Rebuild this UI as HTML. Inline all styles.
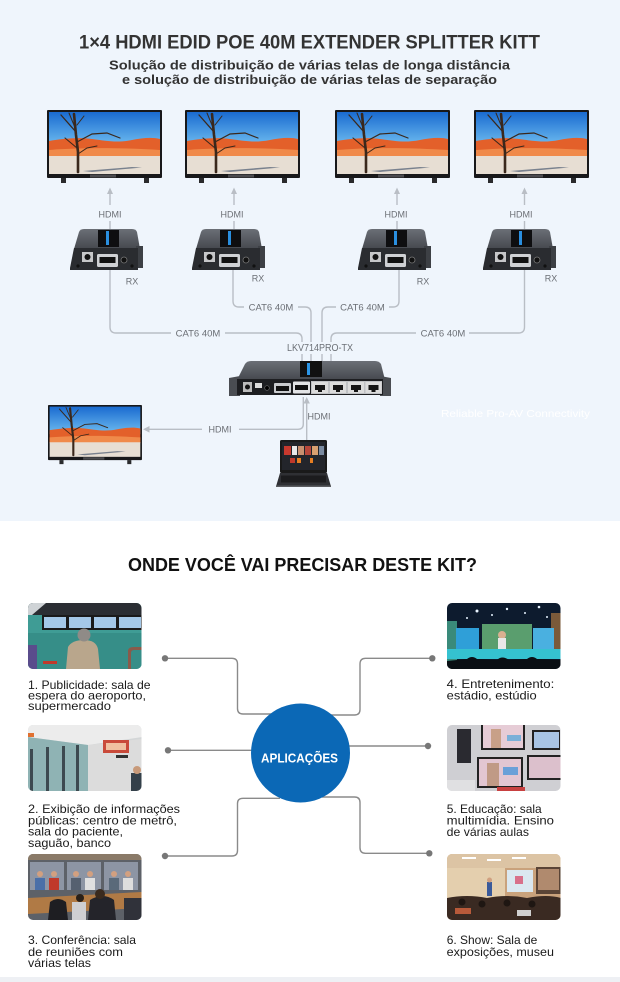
<!DOCTYPE html>
<html><head><meta charset="utf-8"><style>
html,body{margin:0;padding:0;background:#fff;}
svg{display:block;}
text{font-family:"Liberation Sans",sans-serif;}
</style></head><body>
<svg width="620" height="982" viewBox="0 0 620 982" xmlns="http://www.w3.org/2000/svg">
<defs>
 <linearGradient id="sky" x1="0" y1="0" x2="0" y2="1">
  <stop offset="0" stop-color="#1a6bd0"/><stop offset="1" stop-color="#6fbdf0"/>
 </linearGradient>
 <linearGradient id="cover" x1="0" y1="0" x2="0" y2="1">
  <stop offset="0" stop-color="#6b6f76"/><stop offset="1" stop-color="#45484e"/>
 </linearGradient>
 <clipPath id="ph"><rect x="0" y="0" width="113.5" height="66" rx="5"/></clipPath>
 <g id="tv">
  <rect x="0" y="0" width="115" height="68" rx="1" fill="#18181a"/>
  <rect x="2" y="2" width="111" height="34" fill="url(#sky)"/>
  <path d="M2,31 C15,29 30,27 45,29 C60,31 70,33 85,30 C95,28 105,27 113,29 V47 H2 Z" fill="#e3602a"/>
  <path d="M2,40 C40,37 80,38 113,40 V47 H2 Z" fill="#f08a4a"/>
  <rect x="2" y="46" width="111" height="18" fill="#e7ded3"/>
  <path d="M36,61 L85,57 L95,57.5 L45,62 Z" fill="#4a5a70" opacity="0.7"/>
  <g stroke="#3a281c" fill="none" stroke-linecap="round">
   <path d="M31,62 L31,42 L29,25 L27,4" stroke-width="2.6"/>
   <path d="M29,22 L14,5" stroke-width="1.3"/>
   <path d="M29,20 L22,3" stroke-width="1"/>
   <path d="M30,32 L45,24 L60,23 L73,28" stroke-width="1.2"/>
   <path d="M30,38 L18,28" stroke-width="1.1"/>
   <path d="M30,15 L37,6" stroke-width="1"/>
   <path d="M31,44 L40,38 L50,36" stroke-width="1"/>
  </g>
  <rect x="43" y="64.5" width="26" height="3" fill="#4a4a4e"/>
  <rect x="14" y="68" width="5" height="5" fill="#2a2a2c"/>
  <rect x="97" y="68" width="5" height="5" fill="#2a2a2c"/>
 </g>
 <g id="rx">
  <path d="M4,20 L9,3 Q10,0 14,0 L62,0 Q66,0 67,3 L70,20 Z" fill="url(#cover)"/>
  <rect x="28" y="1" width="21" height="17" fill="#0e0e10"/>
  <rect x="36" y="2" width="3" height="14" fill="#2a8fe0"/>
  <rect x="66" y="17" width="7" height="22" fill="#3d4045"/>
  <path d="M0,39 L4,19 L68,19 L68,41 L0,41 Z" fill="#2a2c30"/>
  <rect x="12" y="23" width="11" height="10" fill="#c6c7c9"/>
  <circle cx="17.5" cy="28" r="3" fill="#111"/>
  <rect x="27" y="25" width="21" height="13" rx="1.5" fill="#cfd1d4"/>
  <rect x="29.5" y="28" width="16" height="6" fill="#111"/>
  <circle cx="54" cy="31" r="3" fill="#111" stroke="#777" stroke-width="0.8"/>
  <circle cx="8" cy="37" r="1.6" fill="#111"/>
  <circle cx="62" cy="37" r="1.6" fill="#111"/>
 </g>
</defs>

<!-- top background -->
<rect x="0" y="0" width="620" height="521" fill="#eff5fc"/>

<!-- titles -->
<text x="79" y="48.5" font-size="19" font-weight="bold" fill="#333" textLength="461" lengthAdjust="spacingAndGlyphs">1×4 HDMI EDID POE 40M EXTENDER SPLITTER KITT</text>
<text x="109" y="69.5" font-size="13" font-weight="bold" fill="#333" textLength="401" lengthAdjust="spacingAndGlyphs">Solução de distribuição de várias telas de longa distância</text>
<text x="122" y="84" font-size="13" font-weight="bold" fill="#333" textLength="375" lengthAdjust="spacingAndGlyphs">e solução de distribuição de várias telas de separação</text>

<!-- top TVs -->
<use href="#tv" x="47" y="110"/>
<use href="#tv" x="185" y="110"/>
<use href="#tv" x="335" y="110"/>
<use href="#tv" x="474" y="110"/>

<!-- arrows TV <- RX -->
<g stroke="#b9bec5" stroke-width="1.4" fill="none">
 <path d="M110,192 V205 M110,221 V229"/>
 <path d="M234,192 V205 M234,221 V229"/>
 <path d="M397,192 V205 M397,221 V229"/>
 <path d="M524.5,192 V205 M524.5,221 V229"/>
</g>
<g fill="#b9bec5">
 <path d="M107,194 L110,187.5 L113,194 Z"/>
 <path d="M231,194 L234,187.5 L237,194 Z"/>
 <path d="M394,194 L397,187.5 L400,194 Z"/>
 <path d="M521.5,194 L524.5,187.5 L527.5,194 Z"/>
</g>
<g font-size="9" fill="#6b6f75" text-anchor="middle">
 <text x="110" y="217.5">HDMI</text>
 <text x="232" y="217.5">HDMI</text>
 <text x="396" y="217.5">HDMI</text>
 <text x="521" y="217.5">HDMI</text>
</g>

<!-- RX units -->
<use href="#rx" x="70" y="229"/>
<use href="#rx" x="192" y="229"/>
<use href="#rx" x="358" y="229"/>
<use href="#rx" x="483" y="229"/>
<g font-size="9" fill="#6b6f75" text-anchor="middle">
 <text x="132" y="284.5">RX</text>
 <text x="258" y="281.5">RX</text>
 <text x="423" y="284.5">RX</text>
 <text x="551" y="281.5">RX</text>
</g>

<!-- CAT6 cables -->
<g stroke="#b9bec5" stroke-width="1.4" fill="none">
 <path d="M110,270 V327 Q110,333 116,333 H171 M225,333 H296 Q302,333 302,339 V342"/>
 <path d="M233,270 V301 Q233,307 239,307 H244 M298,307 H305 Q311,307 311,313 V342"/>
 <path d="M399,270 V301 Q399,307 393,307 H389 M336,307 H328 Q322,307 322,313 V342"/>
 <path d="M524.5,270 V327 Q524.5,333 518.5,333 H469 M416,333 H337 Q331,333 331,339 V342"/>
 <path d="M302,354 V362 M311,354 V362 M322,354 V362 M331,354 V362"/>
</g>
<g font-size="9.5" fill="#6b6f75" text-anchor="middle">
 <text x="198" y="336.5">CAT6 40M</text>
 <text x="271" y="310.5">CAT6 40M</text>
 <text x="362.5" y="310.5">CAT6 40M</text>
 <text x="443" y="336.5">CAT6 40M</text>
 <text x="320" y="351" font-size="10" textLength="66" lengthAdjust="spacingAndGlyphs">LKV714PRO-TX</text>
</g>

<!-- TX device -->
<path d="M229,378 L240,376 L240,396 L229,396 Z" fill="#4a4d52"/>
<path d="M380,376 L391,378 L391,396 L380,396 Z" fill="#4a4d52"/>
<path d="M237,380 L245,364 Q247,361 251,361 L375,361 Q379,361 381,364 L385,380 Z" fill="url(#cover)"/>
<rect x="300" y="361" width="22" height="16" fill="#111"/>
<rect x="307" y="363" width="3" height="12" fill="#2b95e6"/>
<rect x="237" y="379" width="146" height="16" fill="#1d1e21"/>
<rect x="243" y="382" width="9" height="10" fill="#bbb"/>
<circle cx="247.5" cy="387" r="2.5" fill="#111"/>
<rect x="255" y="383" width="7" height="5" fill="#ddd"/>
<circle cx="267" cy="388" r="2.3" fill="#000" stroke="#666" stroke-width="0.7"/>
<rect x="274" y="383" width="17" height="10" rx="1" fill="#c9cbce"/>
<rect x="276" y="386" width="13" height="5" fill="#111"/>
<rect x="293" y="381.5" width="17" height="12" rx="1" fill="#e2e3e5"/>
<rect x="295" y="385" width="13" height="5" fill="#111"/>
<rect x="311" y="381" width="71" height="13" fill="#bfc1c4"/>
<g fill="#dcdcdc">
 <rect x="312" y="382" width="16" height="11"/>
 <rect x="330" y="382" width="16" height="11"/>
 <rect x="348" y="382" width="16" height="11"/>
 <rect x="365.5" y="382" width="16" height="11"/>
</g>
<g fill="#151515">
 <path d="M315,385 H325 V390 H322 V392 H318 V390 H315 Z"/>
 <path d="M333,385 H343 V390 H340 V392 H336 V390 H333 Z"/>
 <path d="M351,385 H361 V390 H358 V392 H354 V390 H351 Z"/>
 <path d="M368.5,385 H378.5 V390 H375.5 V392 H371.5 V390 H368.5 Z"/>
</g>

<!-- HDMI connections near TX -->
<g stroke="#b9bec5" stroke-width="1.4" fill="none">
 <path d="M303.3,397 V424 Q303.3,429.3 298,429.3 H239 M202,429.3 H148"/>
 <path d="M306.7,402 V440"/>
</g>
<path d="M149.5,426 L143,429.3 L149.5,432.6 Z" fill="#b9bec5"/>
<path d="M303.5,403.5 L306.7,397 L309.9,403.5 Z" fill="#b9bec5"/>
<g font-size="9" fill="#6b6f75" text-anchor="middle">
 <text x="319" y="419.5">HDMI</text>
 <text x="220" y="432.5">HDMI</text>
</g>

<!-- bottom TV -->
<use href="#tv" transform="translate(48,405) scale(0.817,0.81)"/>

<!-- laptop -->
<rect x="280" y="440" width="47" height="33" rx="1.5" fill="#1a1a1a"/>
<rect x="282" y="442" width="43" height="28" fill="#23252b"/>
<rect x="284" y="446" width="7" height="9" fill="#c8392e"/>
<rect x="292" y="446" width="5" height="9" fill="#e8e8e8"/>
<rect x="298" y="446" width="6" height="9" fill="#c89070"/>
<rect x="305" y="446" width="6" height="9" fill="#b7463a"/>
<rect x="312" y="446" width="6" height="9" fill="#d9a070"/>
<rect x="319" y="446" width="5" height="9" fill="#7a8aa0"/>
<rect x="290" y="458" width="5" height="5" fill="#c0392b"/>
<rect x="297" y="458" width="4" height="5" fill="#e67e22"/>
<rect x="310" y="458" width="3" height="5" fill="#e67e22"/>
<path d="M280,473 L327,473 L331,486.5 L276,486.5 Z" fill="#2f3034"/>
<rect x="281" y="475.5" width="45" height="7" fill="#1c1c1e"/>
<rect x="276" y="485.5" width="55" height="1.5" fill="#5a5b5f"/>

<!-- watermark -->
<text x="441" y="417" font-size="10.5" fill="#ffffff" textLength="149" lengthAdjust="spacingAndGlyphs">Reliable Pro-AV Connectivity</text>

<!-- bottom section -->
<rect x="0" y="521" width="620" height="456" fill="#ffffff"/>
<rect x="0" y="977" width="620" height="5" fill="#eef0f4"/>

<text x="128" y="571" font-size="18" font-weight="bold" fill="#111" textLength="349" lengthAdjust="spacingAndGlyphs">ONDE VOCÊ VAI PRECISAR DESTE KIT?</text>

<!-- connectors -->
<g stroke="#8a8a8a" stroke-width="1.4" fill="none">
 <path d="M165,658.3 H232 Q237.5,658.3 237.5,664 V708.5 Q237.5,714 243,714 H280"/>
 <path d="M168,750.3 H262"/>
 <path d="M165,856 H232 Q237.5,856 237.5,850.5 V803.5 Q237.5,798.3 243,798.3 H280"/>
 <path d="M432.3,658.3 H365.5 Q360,658.3 360,664 V709.5 Q360,715 354.5,715 H322"/>
 <path d="M428,746 H340"/>
 <path d="M429.3,853.3 H365.5 Q360,853.3 360,847.8 V802.5 Q360,797 354.5,797 H322"/>
</g>
<g fill="#777">
 <circle cx="165" cy="658.3" r="3.2"/>
 <circle cx="168" cy="750.3" r="3.2"/>
 <circle cx="165" cy="856" r="3.2"/>
 <circle cx="432.3" cy="658.3" r="3.2"/>
 <circle cx="428" cy="746" r="3.2"/>
 <circle cx="429.3" cy="853.3" r="3.2"/>
</g>

<circle cx="300.5" cy="753" r="49.5" fill="#0b68b6"/>
<text x="261" y="762.5" font-size="12.5" font-weight="bold" fill="#fff" textLength="77" lengthAdjust="spacingAndGlyphs">APLICAÇÕES</text>

<!-- photo 1: airport -->
<g transform="translate(28,603)" clip-path="url(#ph)">
 <rect width="114" height="66" fill="#3f9c95"/>
 <rect y="30" width="114" height="36" fill="#368e88"/>
 <rect width="114" height="12" fill="#2b2e33"/>
 <path d="M0,0 L18,0 L4,12 L0,12 Z" fill="#cfd3d6"/>
 <rect x="14" y="12" width="100" height="15" fill="#1a1a1a"/>
 <rect x="16" y="14" width="22" height="11" fill="#a4c8e8"/>
 <rect x="41" y="14" width="22" height="11" fill="#a4c8e8"/>
 <rect x="66" y="14" width="22" height="11" fill="#a4c8e8"/>
 <rect x="91" y="14" width="22" height="11" fill="#a4c8e8"/>
 <path d="M38,66 L40,44 Q44,37 56,37 Q68,37 70,46 L72,66 Z" fill="#b9a68c"/>
 <circle cx="56" cy="32" r="6.5" fill="#8f8b87"/>
 <rect x="0" y="42" width="9" height="24" fill="#5a4c8c"/>
 <rect x="15" y="58" width="14" height="3" fill="#c0392b"/>
 <path d="M100,66 V48 Q100,44 106,44 H114 V47 H106 Q103,47 103,50 V66 Z" fill="#8a5a4a"/>
</g>
<!-- photo 2: metro -->
<g transform="translate(28,725)" clip-path="url(#ph)">
 <rect width="114" height="66" fill="#d3d6d7"/>
 <path d="M0,0 H114 V12 L60,20 L0,12 Z" fill="#ececec"/>
 <path d="M0,12 L60,20 L60,66 L0,66 Z" fill="#8fb3b4"/>
 <rect x="2" y="24" width="3" height="42" fill="#3d4a50"/>
 <rect x="18" y="22" width="3" height="44" fill="#3d4a50"/>
 <rect x="34" y="21" width="3" height="45" fill="#3d4a50"/>
 <rect x="48" y="20" width="3" height="46" fill="#3d4a50"/>
 <rect x="0" y="8" width="6" height="4" fill="#e07030"/>
 <path d="M60,20 L114,14 V66 H60 Z" fill="#dcdcdc"/>
 <rect x="75" y="15" width="26" height="13" fill="#c94a3a"/>
 <rect x="78" y="18" width="20" height="7" fill="#f0c0a0"/>
 <rect x="88" y="30" width="12" height="3" fill="#333"/>
 <rect x="103" y="48" width="11" height="18" fill="#34404a"/>
 <circle cx="109" cy="45" r="4" fill="#c89a7a"/>
</g>
<!-- photo 3: conference -->
<g transform="translate(28,854)" clip-path="url(#ph)">
 <rect width="114" height="66" fill="#5d6168"/>
 <rect width="114" height="6" fill="#8a7a68"/>
 <rect x="2" y="8" width="34" height="28" fill="#8d95a4"/>
 <rect x="39" y="8" width="34" height="28" fill="#8d95a4"/>
 <rect x="76" y="8" width="34" height="28" fill="#8d95a4"/>
 <g fill="#d2a080">
  <circle cx="12" cy="20" r="3"/><circle cx="26" cy="20" r="3"/>
  <circle cx="48" cy="20" r="3"/><circle cx="62" cy="20" r="3"/>
  <circle cx="86" cy="20" r="3"/><circle cx="100" cy="20" r="3"/>
 </g>
 <rect x="7" y="24" width="10" height="12" fill="#4a6fa8"/>
 <rect x="21" y="24" width="10" height="12" fill="#c0392b"/>
 <rect x="43" y="24" width="10" height="12" fill="#556070"/>
 <rect x="57" y="24" width="10" height="12" fill="#e0e0e0"/>
 <rect x="81" y="24" width="10" height="12" fill="#5a6a7a"/>
 <rect x="95" y="24" width="10" height="12" fill="#ddd"/>
 <path d="M0,44 L114,38 L114,54 L0,60 Z" fill="#b07a45"/>
 <path d="M20,66 L22,48 Q30,42 38,48 L40,66 Z" fill="#1e1e22"/>
 <path d="M60,66 L62,46 Q75,38 86,46 L88,66 Z" fill="#24242a"/>
 <circle cx="72" cy="40" r="5" fill="#3a2a1e"/>
 <circle cx="52" cy="44" r="4" fill="#2a2018"/>
 <rect x="44" y="48" width="14" height="18" fill="#cfcfd2"/>
 <rect x="96" y="44" width="18" height="22" fill="#30323a"/>
</g>
<!-- photo 4: stage -->
<g transform="translate(447,603)" clip-path="url(#ph)">
 <rect width="114" height="66" fill="#0d1b2e"/>
 <g fill="#e8f4ff">
  <circle cx="30" cy="8" r="1.5"/><circle cx="45" cy="12" r="1"/><circle cx="60" cy="6" r="1.2"/>
  <circle cx="78" cy="10" r="1"/><circle cx="92" cy="4" r="1.3"/><circle cx="20" cy="15" r="1"/>
  <circle cx="100" cy="14" r="1"/>
 </g>
 <rect x="0" y="18" width="10" height="40" fill="#3a8a7a"/>
 <rect x="104" y="10" width="10" height="45" fill="#7a5a3a"/>
 <rect x="9" y="25" width="23" height="21" fill="#2f9fd8"/>
 <rect x="35" y="21" width="50" height="25" fill="#5a9e6e"/>
 <rect x="86" y="25" width="21" height="21" fill="#4ab0e0"/>
 <circle cx="55" cy="32" r="4" fill="#d8b090"/>
 <rect x="51" y="35" width="8" height="11" fill="#e8e8e8"/>
 <rect x="0" y="46" width="114" height="10" fill="#35c2d0"/>
 <path d="M0,66 V58 L20,56 Q25,52 30,56 L50,57 Q55,52 62,57 L80,56 Q85,52 90,56 L114,57 V66 Z" fill="#0a0f14"/>
</g>
<!-- photo 5: TV store -->
<g transform="translate(447,725)" clip-path="url(#ph)">
 <rect width="114" height="66" fill="#cfcfd3"/>
 <rect x="10" y="4" width="14" height="34" fill="#2a2a30"/>
 <rect x="34" y="0" width="44" height="25" fill="#222"/>
 <rect x="36" y="0" width="40" height="23" fill="#e6ccd6"/>
 <rect x="44" y="4" width="10" height="19" fill="#c8a088"/>
 <rect x="60" y="10" width="14" height="6" fill="#7ab0d8"/>
 <rect x="85" y="5" width="28" height="20" fill="#222"/>
 <rect x="87" y="7" width="25" height="16" fill="#a8c4e4"/>
 <rect x="30" y="32" width="46" height="31" fill="#222"/>
 <rect x="32" y="34" width="42" height="27" fill="#e2c6d2"/>
 <rect x="40" y="38" width="12" height="23" fill="#c09a86"/>
 <rect x="56" y="42" width="15" height="8" fill="#6aa0d8"/>
 <rect x="80" y="30" width="34" height="25" fill="#222"/>
 <rect x="82" y="32" width="32" height="21" fill="#dcc0cc"/>
 <rect x="50" y="62" width="28" height="4" fill="#c84040"/>
 <rect x="0" y="55" width="28" height="11" fill="#e0e0e2"/>
</g>
<!-- photo 6: lecture hall -->
<g transform="translate(447,854)" clip-path="url(#ph)">
 <rect width="114" height="66" fill="#c9a27c"/>
 <rect width="114" height="14" fill="#dcc4a4"/>
 <rect x="15" y="3" width="14" height="2" fill="#fff"/>
 <rect x="40" y="5" width="14" height="2" fill="#fff"/>
 <rect x="65" y="3" width="14" height="2" fill="#fff"/>
 <rect x="0" y="14" width="58" height="30" fill="#e4cfae"/>
 <rect x="60" y="16" width="26" height="22" fill="#dbe8f0"/>
 <rect x="68" y="22" width="8" height="8" fill="#d8708a"/>
 <rect x="89" y="13" width="25" height="27" fill="#5a4436"/>
 <rect x="91" y="15" width="21" height="21" fill="#b08a6e"/>
 <rect x="40" y="28" width="5" height="14" fill="#3a5a9a"/>
 <circle cx="42.5" cy="26" r="2.5" fill="#d0a080"/>
 <path d="M0,66 V44 Q20,40 40,44 Q60,40 80,44 Q100,40 114,44 V66 Z" fill="#3a2a22"/>
 <circle cx="15" cy="48" r="3.5" fill="#1e1612"/>
 <circle cx="35" cy="50" r="3.5" fill="#1e1612"/>
 <circle cx="60" cy="49" r="3.5" fill="#1e1612"/>
 <circle cx="85" cy="50" r="3.5" fill="#1e1612"/>
 <rect x="8" y="54" width="16" height="6" fill="#b85a3a"/>
 <rect x="70" y="56" width="14" height="6" fill="#d0d0d0"/>
</g>

<!-- descriptions -->
<g font-size="12" fill="#1a1a1a">
 <text x="28" y="689" textLength="122.5" lengthAdjust="spacingAndGlyphs">1. Publicidade: sala de</text>
 <text x="28" y="699.5" textLength="118" lengthAdjust="spacingAndGlyphs">espera do aeroporto,</text>
 <text x="28" y="710" textLength="83" lengthAdjust="spacingAndGlyphs">supermercado</text>

 <text x="28" y="813" textLength="152" lengthAdjust="spacingAndGlyphs">2. Exibição de informações</text>
 <text x="28" y="824.5" textLength="149" lengthAdjust="spacingAndGlyphs">públicas: centro de metrô,</text>
 <text x="28" y="835.5" textLength="95" lengthAdjust="spacingAndGlyphs">sala do paciente,</text>
 <text x="28" y="847" textLength="83" lengthAdjust="spacingAndGlyphs">saguão, banco</text>

 <text x="28" y="944" textLength="108" lengthAdjust="spacingAndGlyphs">3. Conferência: sala</text>
 <text x="28" y="956" textLength="95" lengthAdjust="spacingAndGlyphs">de reuniões com</text>
 <text x="28" y="967" textLength="63" lengthAdjust="spacingAndGlyphs">várias telas</text>

 <text x="446.7" y="688" textLength="107.6" lengthAdjust="spacingAndGlyphs">4. Entretenimento:</text>
 <text x="446.7" y="699.5" textLength="90" lengthAdjust="spacingAndGlyphs">estádio, estúdio</text>

 <text x="446.7" y="813" textLength="95" lengthAdjust="spacingAndGlyphs">5. Educação: sala</text>
 <text x="446.7" y="824.5" textLength="107.3" lengthAdjust="spacingAndGlyphs">multimídia. Ensino</text>
 <text x="446.7" y="836" textLength="82.3" lengthAdjust="spacingAndGlyphs">de várias aulas</text>

 <text x="446.7" y="944" textLength="90.6" lengthAdjust="spacingAndGlyphs">6. Show: Sala de</text>
 <text x="446.7" y="956" textLength="107.3" lengthAdjust="spacingAndGlyphs">exposições, museu</text>
</g>
</svg>
</body></html>
